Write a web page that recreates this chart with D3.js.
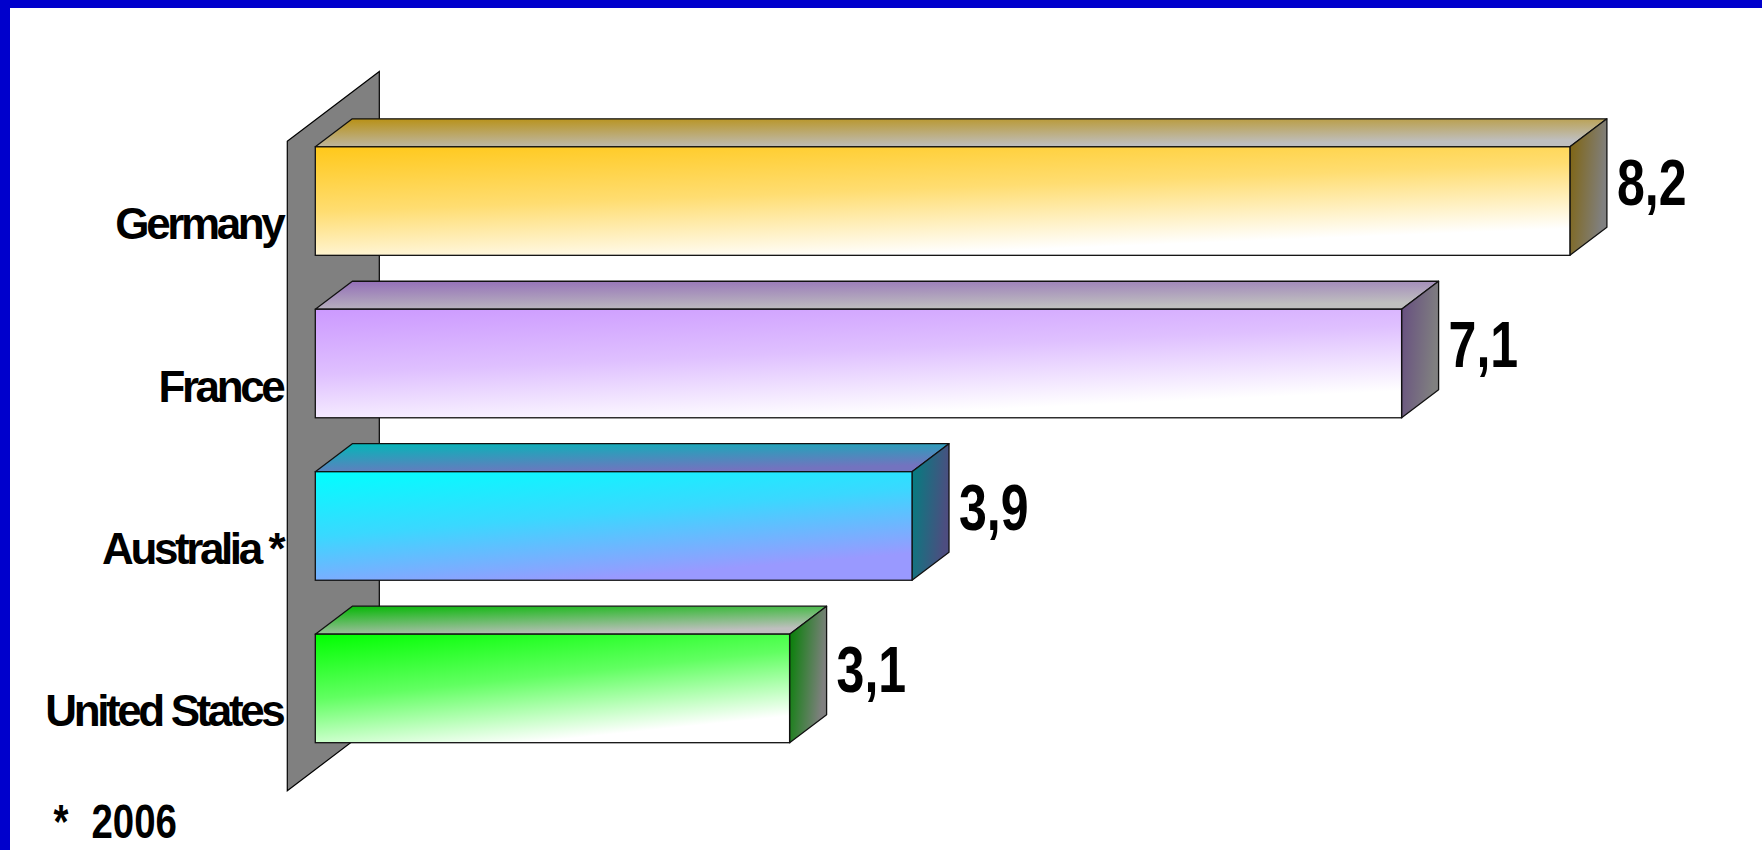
<!DOCTYPE html>
<html>
<head>
<meta charset="utf-8">
<script src="https://cdn.jsdelivr.net/npm/d3@7"></script>
<style>
  html, body { margin: 0; padding: 0; background: #ffffff; }
  svg { display: block; }
</style>
</head>
<body>
<svg id="chart" width="1762" height="850"></svg>
<script>
// ---- data ----
const categories = ["Germany", "France", "Australia *", "United States"];
const values = [8.2, 7.1, 3.9, 3.1];
const footnoteMark = "*";
const footnoteText = "2006";

// ---- palette (styles) ----
const frontFrom = ["#FFC81A", "#CC99FF", "#00FFFF", "#00FF00"];
const frontTo   = ["#FFFFFF", "#FFFFFF", "#9999FF", "#FFFFFF"];

// ---- layout ----
const W = 1762, H = 850;
const svg = d3.select("#chart");
svg.append("rect").attr("width", W).attr("height", H).attr("fill", "#ffffff");

const x = d3.scaleLinear().domain([0, 9]).range([315.3, 315.3 + 153 * 9]);
const y = d3.scaleBand().domain(categories).range([120, 769.5])
  .paddingInner(0.332).paddingOuter(0.165);

const dx = 37, dy = -28;          // depth vector of a bar
const wallFront = -0.757, wallBack = 1.73;   // wall planes in bar-depth units

const fmt = d3.formatLocale({decimal: ",", thousands: ".", grouping: [3], currency: ["", ""]}).format(".1f");

function shade(c, k) {
  const r = d3.rgb(c);
  return d3.rgb(r.r * k, r.g * k, r.b * k).formatHex();
}

const defs = svg.append("defs");
function grad(id, c0, c1, x2, y2, mid) {
  const g = defs.append("linearGradient").attr("id", id)
    .attr("x1", 0).attr("y1", 0).attr("x2", x2).attr("y2", y2);
  g.append("stop").attr("offset", 0).attr("stop-color", c0);
  if (mid !== undefined) g.append("stop").attr("offset", 0.5).attr("stop-color", d3.interpolateRgb(c0, c1)(mid));
  g.append("stop").attr("offset", 1).attr("stop-color", c1);
}
categories.forEach((c, i) => {
  grad("front" + i, frontFrom[i], frontTo[i], 0.45, 1, 0.38);
  grad("top" + i, shade(frontFrom[i], 0.72), shade(frontTo[i], 0.75), 0.5, 1);
  grad("side" + i, shade(frontFrom[i], 0.5), shade(frontTo[i], 0.5), 1, 0.3);
});

// ---- wall ----
const [y0, y1] = y.range();
const xw0 = x(0) + wallFront * dx, yw0 = wallFront * dy;
const xw1 = x(0) + wallBack * dx,  yw1 = wallBack * dy;
svg.append("polygon")
  .attr("points", [[xw0, y0 + yw0], [xw1, y0 + yw1], [xw1, y1 + yw1], [xw0, y1 + yw0]].join(" "))
  .attr("fill", "#808080").attr("stroke", "#000").attr("stroke-width", 1.2);

// ---- bars ----
const stroke = "#111";
const bars = svg.append("g").selectAll("g").data(values).join("g");
bars.each(function(v, i) {
  const g = d3.select(this);
  const xa = x(0), xb = x(v);
  const yt = y(categories[i]), yb = yt + y.bandwidth();
  g.append("polygon")
    .attr("points", [[xa, yt], [xa + dx, yt + dy], [xb + dx, yt + dy], [xb, yt]].join(" "))
    .attr("fill", `url(#top${i})`).attr("stroke", stroke).attr("stroke-width", 1.3).attr("stroke-linejoin", "round");
  g.append("polygon")
    .attr("points", [[xb, yt], [xb + dx, yt + dy], [xb + dx, yb + dy], [xb, yb]].join(" "))
    .attr("fill", `url(#side${i})`).attr("stroke", stroke).attr("stroke-width", 1.3).attr("stroke-linejoin", "round");
  g.append("rect")
    .attr("x", xa).attr("y", yt).attr("width", xb - xa).attr("height", y.bandwidth())
    .attr("fill", `url(#front${i})`).attr("stroke", stroke).attr("stroke-width", 1.3);

  // value label
  g.append("g")
    .attr("transform", `translate(${xb + dx + 10},${yt + 58}) scale(0.77,1)`)
    .append("text")
    .attr("font-family", "'Liberation Sans', Arial, sans-serif")
    .attr("font-weight", "bold").attr("font-size", 65).attr("fill", "#000")
    .text(fmt(v));
});

// ---- category labels ----
svg.append("g").selectAll("text").data(categories).join("text")
  .attr("x", x(0) - 33)
  .attr("y", d => y(d) + y.bandwidth() / 2 + 38)
  .attr("text-anchor", "end")
  .attr("font-family", "'Liberation Sans', Arial, sans-serif")
  .attr("font-weight", "bold").attr("font-size", 44)
  .attr("letter-spacing", -3.4)
  .attr("fill", "#000")
  .text(d => d);

// ---- footnote ----
const fn = svg.append("g").attr("font-family", "'Liberation Sans', Arial, sans-serif")
  .attr("font-weight", "bold").attr("font-size", 48).attr("fill", "#000");
fn.append("g").attr("transform", "translate(53.5,838) scale(0.8,1)").append("text").text(footnoteMark);
fn.append("g").attr("transform", "translate(91.5,838) scale(0.8,1)").append("text").text(footnoteText);

// ---- blue frame ----
svg.append("rect").attr("x", 0).attr("y", 0).attr("width", W).attr("height", 8).attr("fill", "#0000CC");
svg.append("rect").attr("x", 0).attr("y", 0).attr("width", 10).attr("height", H).attr("fill", "#0000CC");
</script>
</body>
</html>
